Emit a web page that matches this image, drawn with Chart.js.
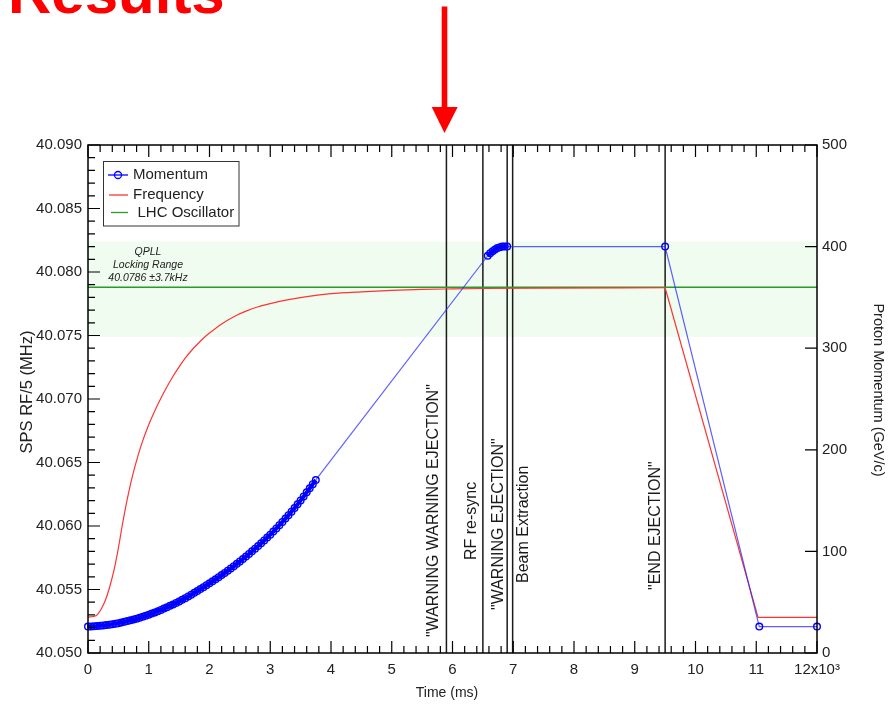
<!DOCTYPE html>
<html>
<head>
<meta charset="utf-8">
<script src="https://cdn.jsdelivr.net/npm/chart.js@4.4.1/dist/chart.umd.min.js"></script>
<style>
  html, body { margin: 0; padding: 0; background: #fff; }
  #wrap { width: 893px; height: 705px; }
</style>
</head>
<body>
<div id="wrap"><canvas id="chart" width="893" height="705"></canvas></div>
<script>
// tick labels
const xTicks = [0, 1000, 2000, 3000, 4000, 5000, 6000, 7000, 8000, 9000, 10000, 11000, 12000];
const yLeftTicks = [40.050, 40.055, 40.060, 40.065, 40.070, 40.075, 40.080, 40.085, 40.090];
const yRightTicks = [0, 100, 200, 300, 400, 500];

// momentum (GeV/c), right axis
const momentumTime = [
  0, 50, 100, 150, 200, 250, 300, 350, 400, 450,
  500, 550, 600, 650, 700, 750, 800, 850, 900, 950,
  1000, 1050, 1100, 1150, 1200, 1250, 1300, 1350, 1400, 1450,
  1500, 1550, 1600, 1650, 1700, 1750, 1800, 1850, 1900, 1950,
  2000, 2050, 2100, 2150, 2200, 2250, 2300, 2350, 2400, 2450,
  2500, 2550, 2600, 2650, 2700, 2750, 2800, 2850, 2900, 2950,
  3000, 3050, 3100, 3150, 3200, 3250, 3300, 3350, 3400, 3450,
  3500, 3550, 3600, 3650, 3700, 3750,
  6580, 6620, 6660, 6700, 6740, 6780, 6820, 6860, 6900,
  9500, 11050, 12000
];
const momentumValue = [
  26.0, 26.1, 26.3, 26.5, 26.8, 27.1, 27.5, 27.9, 28.4, 28.9,
  29.4, 30.0, 30.7, 31.4, 32.2, 33.0, 33.8, 34.7, 35.7, 36.7,
  37.7, 38.8, 39.9, 41.1, 42.4, 43.7, 45.0, 46.4, 47.8, 49.3,
  50.8, 52.4, 54.0, 55.7, 57.4, 59.2, 61.0, 62.9, 64.8, 66.8,
  68.6, 70.6, 72.6, 74.6, 76.7, 78.8, 81.0, 83.2, 85.5, 87.8,
  90.1, 92.5, 95.0, 97.5, 100.1, 102.7, 105.3, 108.0, 110.8, 113.6,
  116.5, 119.5, 122.6, 125.8, 129.0, 132.3, 135.7, 139.1, 142.6, 146.3,
  150.2, 154.1, 158.1, 162.1, 166.2, 170.3,
  391.0, 393.5, 395.5, 397.2, 398.5, 399.4, 400.0, 400.0, 400.0,
  400.0, 26.0, 26.0
];

// SPS RF/5 frequency (MHz), left axis
const freqTime = [
  0, 138, 220, 286, 357, 428, 494, 560, 632, 703, 780, 878, 988,
  1100, 1200, 1300, 1400, 1500, 1600, 1700, 1800, 1900, 2000,
  2200, 2400, 2600, 2800, 3000, 3300, 3600, 4000, 4500, 5000,
  5500, 6000, 6500, 7500, 9500, 11030, 12000
];
const freqValue = [
  40.05283, 40.05296, 40.05349, 40.05415, 40.05520, 40.05652, 40.05810, 40.05994,
  40.06178, 40.06336, 40.06481, 40.06639, 40.06784,
  40.06908, 40.07006, 40.07096, 40.07179, 40.07253, 40.07321, 40.07380, 40.07431,
  40.07478, 40.07519,
  40.07591, 40.07648, 40.07692, 40.07726, 40.07751, 40.07782, 40.07806, 40.07829,
  40.07844, 40.07855, 40.07863, 40.07867, 40.07870, 40.07873, 40.07876,
  40.05280, 40.05280
];
const freqRampEnd = 9500; // smooth ramp up to here, straight lines after

// LHC oscillator and QPLL locking range
const lhcTime = [0, 12000];
const lhcValue = [40.0788, 40.0788];
const lockRange = [40.0749, 40.0824];
const lockLabel = ['QPLL', 'Locking Range', '40.0786 \u00b13.7kHz'];

// events
const eventTime = [5900, 6500, 6900, 6990, 9500];
const eventLabel = ['"WARNING WARNING EJECTION"', 'RF re-sync', '"WARNING EJECTION"', 'Beam Extraction', '"END EJECTION"'];

const FONT = '"Liberation Sans", Arial, sans-serif';
const toXY = (ts, vs) => ts.map((t, i) => ({ x: t, y: vs[i] }));
const freqPts = toXY(freqTime, freqValue);
const freqRamp = freqPts.filter(p => p.x <= freqRampEnd);
const freqTail = freqPts.filter(p => p.x >= freqRampEnd);

// dense stretches of momentum samples look like a solid band
const dense = c => (c.p1.parsed.x <= 3750) || (c.p0.parsed.x >= 6580 && c.p1.parsed.x <= 6900);

const decor = {
  id: 'decor',
  beforeDraw(chart) {
    const { ctx } = chart;
    ctx.save();
    ctx.fillStyle = '#fff';
    ctx.fillRect(0, 0, chart.width, chart.height);
    ctx.restore();
  },
  beforeDatasetsDraw(chart) {
    const { ctx, chartArea: a, scales: { x, y } } = chart;
    ctx.save();
    const top = y.getPixelForValue(lockRange[1]);
    const bot = y.getPixelForValue(lockRange[0]);
    ctx.fillStyle = '#effcef';
    ctx.fillRect(a.left, top, a.right - a.left, bot - top);

    ctx.fillStyle = '#222';
    ctx.font = 'italic 10.5px ' + FONT;
    ctx.textAlign = 'center';
    ctx.textBaseline = 'middle';
    lockLabel.forEach((s, i) => ctx.fillText(s, 148, 252 + i * 13));

    ctx.strokeStyle = '#1a1a1a';
    ctx.lineWidth = 1.5;
    eventTime.forEach(t => {
      const px = x.getPixelForValue(t);
      ctx.beginPath();
      ctx.moveTo(px, a.top);
      ctx.lineTo(px, a.bottom);
      ctx.stroke();
    });
    ctx.restore();
  },
  afterDraw(chart) {
    const { ctx, chartArea: a, scales: { x, y, y1 } } = chart;
    ctx.save();

    // event labels
    const dx = [-13, -11, -9, 11, -10];
    const by = [637, 560, 610, 583, 590];
    ctx.fillStyle = '#1a1a1a';
    ctx.font = '16px ' + FONT;
    ctx.textAlign = 'left';
    ctx.textBaseline = 'middle';
    eventTime.forEach((t, i) => {
      ctx.save();
      ctx.translate(x.getPixelForValue(t) + dx[i], by[i]);
      ctx.rotate(-Math.PI / 2);
      ctx.fillText(eventLabel[i], 0, 0);
      ctx.restore();
    });

    // frame and ticks
    ctx.strokeStyle = '#000';
    ctx.lineWidth = 1.5;
    ctx.strokeRect(a.left, a.top, a.right - a.left, a.bottom - a.top);
    ctx.lineWidth = 1.2;
    ctx.beginPath();
    for (let i = 0; i <= 60; i++) {
      const px = x.getPixelForValue(i * 200);
      const len = i % 5 === 0 ? 12 : 7;
      ctx.moveTo(px, a.bottom); ctx.lineTo(px, a.bottom - len);
      ctx.moveTo(px, a.top); ctx.lineTo(px, a.top + len);
    }
    for (let i = 0; i <= 40; i++) {
      const py = y.getPixelForValue(40.05 + i * 0.001);
      const len = i % 5 === 0 ? 12 : 7;
      ctx.moveTo(a.left, py); ctx.lineTo(a.left + len, py);
    }
    yRightTicks.forEach(v => {
      const py = y1.getPixelForValue(v);
      ctx.moveTo(a.right, py); ctx.lineTo(a.right - 12, py);
    });
    ctx.stroke();

    // legend
    ctx.fillStyle = '#fff';
    ctx.fillRect(103.5, 161.5, 135.5, 64.5);
    ctx.strokeStyle = '#333';
    ctx.lineWidth = 1;
    ctx.strokeRect(103.5, 161.5, 135.5, 64.5);
    ctx.font = '15px ' + FONT;
    ctx.textAlign = 'left';
    ctx.textBaseline = 'middle';
    ctx.lineWidth = 1.3;
    ctx.strokeStyle = '#0000ff';
    ctx.beginPath(); ctx.moveTo(108, 175); ctx.lineTo(128, 175); ctx.stroke();
    ctx.beginPath(); ctx.arc(118, 175, 3.5, 0, Math.PI * 2); ctx.stroke();
    ctx.strokeStyle = '#ff3333';
    ctx.beginPath(); ctx.moveTo(109, 195); ctx.lineTo(128, 195); ctx.stroke();
    ctx.strokeStyle = '#2a9a2a';
    ctx.beginPath(); ctx.moveTo(111, 212.5); ctx.lineTo(128, 212.5); ctx.stroke();
    ctx.fillStyle = '#222';
    ctx.fillText('Momentum', 133, 175);
    ctx.fillText('Frequency', 133, 195);
    ctx.fillText('LHC Oscillator', 137.5, 212.5);

    // axis titles
    ctx.fillStyle = '#222';
    ctx.textAlign = 'center';
    ctx.font = '14px ' + FONT;
    ctx.fillText('Time (ms)', 447, 693);
    ctx.save();
    ctx.translate(27, 392);
    ctx.rotate(-Math.PI / 2);
    ctx.font = '16.5px ' + FONT;
    ctx.fillText('SPS RF/5 (MHz)', 0, 0);
    ctx.restore();
    ctx.save();
    ctx.translate(878, 390);
    ctx.rotate(Math.PI / 2);
    ctx.font = '14.5px ' + FONT;
    ctx.fillText('Proton Momentum (GeV/c)', 0, 0);
    ctx.restore();

    // slide heading and arrow
    ctx.fillStyle = '#ff0000';
    ctx.font = 'bold 60px ' + FONT;
    ctx.textAlign = 'left';
    ctx.textBaseline = 'alphabetic';
    ctx.fillText('Results', 8, 12.5);
    ctx.fillRect(441.7, 6.5, 5.6, 101);
    ctx.beginPath();
    ctx.moveTo(431.7, 107);
    ctx.lineTo(457.7, 107);
    ctx.lineTo(444.5, 133);
    ctx.closePath();
    ctx.fill();
    ctx.restore();
  }
};

const tickFont = { family: FONT, size: 15 };
const noGrid = { display: false, drawTicks: false };

new Chart(document.getElementById('chart'), {
  type: 'line',
  data: {
    datasets: [
      {
        label: 'Momentum',
        data: toXY(momentumTime, momentumValue),
        yAxisID: 'y1',
        borderColor: 'rgba(40,40,255,0.75)',
        borderWidth: 1.2,
        segment: {
          borderWidth: c => dense(c) ? 4 : 1.2,
          borderColor: c => dense(c) ? '#0000ff' : 'rgba(40,40,255,0.75)'
        },
        pointRadius: 3.3,
        pointBorderWidth: 1.4,
        pointBorderColor: '#0000ff',
        pointBackgroundColor: 'rgba(0,0,0,0)',
        clip: false
      },
      {
        label: 'Frequency',
        data: freqRamp,
        yAxisID: 'y',
        borderColor: '#ff3333',
        borderWidth: 1.2,
        cubicInterpolationMode: 'monotone',
        pointRadius: 0
      },
      {
        label: 'Frequency',
        data: freqTail,
        yAxisID: 'y',
        borderColor: '#ff3333',
        borderWidth: 1.2,
        pointRadius: 0
      },
      {
        label: 'LHC Oscillator',
        data: toXY(lhcTime, lhcValue),
        yAxisID: 'y',
        borderColor: '#2a9a2a',
        borderWidth: 1.4,
        pointRadius: 0
      }
    ]
  },
  options: {
    responsive: false,
    animation: false,
    events: [],
    layout: { padding: { top: 145, left: 0, right: 0, bottom: 0 } },
    plugins: { legend: { display: false }, tooltip: { enabled: false } },
    scales: {
      x: {
        type: 'linear', min: 0, max: 12000,
        afterBuildTicks: s => { s.ticks = xTicks.map(v => ({ value: v })); },
        afterFit: s => { s.height = 52; },
        grid: noGrid, border: { display: false },
        ticks: {
          padding: 8, font: tickFont, color: '#222', maxRotation: 0, autoSkip: false,
          callback: v => v === 12000 ? '12x10\u00b3' : String(v / 1000)
        }
      },
      y: {
        position: 'left', min: 40.05, max: 40.09,
        afterBuildTicks: s => { s.ticks = yLeftTicks.map(v => ({ value: v })); },
        afterFit: s => { s.width = 88; },
        grid: noGrid, border: { display: false },
        ticks: { padding: 6, font: tickFont, color: '#222', callback: v => v.toFixed(3) }
      },
      y1: {
        position: 'right', min: 0, max: 500,
        afterBuildTicks: s => { s.ticks = yRightTicks.map(v => ({ value: v })); },
        afterFit: s => { s.width = 76; },
        grid: noGrid, border: { display: false },
        ticks: { padding: 5, font: tickFont, color: '#222' }
      }
    }
  },
  plugins: [decor]
});
</script>
</body>
</html>
